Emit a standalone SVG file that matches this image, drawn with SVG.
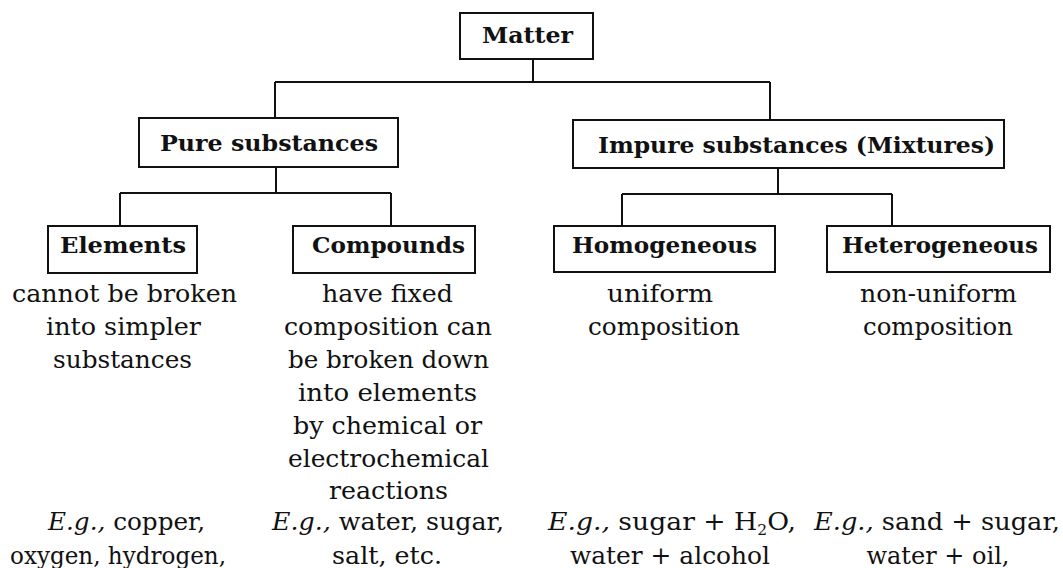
<svg xmlns="http://www.w3.org/2000/svg" width="1063" height="568" viewBox="0 0 1063 568">
<style>
.box{fill:#fff;stroke:#111;stroke-width:2}
.lbl{font-family:"DejaVu Serif","Liberation Serif",serif;font-weight:bold;font-size:23px;fill:#111}
.txt{font-family:"DejaVu Serif","Liberation Serif",serif;font-size:24px;fill:#111}
.it{font-style:italic}
.conn path{fill:none;stroke:#111;stroke-width:2}
</style>
<rect width="1063" height="568" fill="#fff"/>
<g class="conn" id="connectors">
<path d="M533,59 V82"/>
<path d="M275,82 H770"/>
<path d="M275,82 V118"/>
<path d="M770,82 V120"/>
<path d="M276,167 V193"/>
<path d="M120,193 H391"/>
<path d="M120,193 V226"/>
<path d="M391,193 V226"/>
<path d="M778,168 V194"/>
<path d="M622,194 H892"/>
<path d="M622,194 V226"/>
<path d="M892,194 V226"/>
</g>
<g id="matter">
<rect class="box" x="460" y="13" width="133" height="46"/>
<text class="lbl" x="482" y="43" textLength="91" lengthAdjust="spacingAndGlyphs">Matter</text>
</g>
<g id="pure">
<rect class="box" x="139" y="118" width="259" height="49"/>
<text class="lbl" x="160" y="151" textLength="218" lengthAdjust="spacingAndGlyphs">Pure substances</text>
</g>
<g id="impure">
<rect class="box" x="573" y="120" width="431" height="48"/>
<text class="lbl" x="598" y="153" textLength="397" lengthAdjust="spacingAndGlyphs">Impure substances (Mixtures)</text>
</g>
<g id="elements">
<rect class="box" x="48" y="226" width="149" height="47"/>
<text class="lbl" x="60" y="253" textLength="126" lengthAdjust="spacingAndGlyphs">Elements</text>
<text class="txt" x="12" y="302" textLength="225" lengthAdjust="spacingAndGlyphs">cannot be broken</text>
<text class="txt" x="46" y="335" textLength="155" lengthAdjust="spacingAndGlyphs">into simpler</text>
<text class="txt" x="53" y="368" textLength="139" lengthAdjust="spacingAndGlyphs">substances</text>
<text class="txt" x="48" y="530" textLength="157" lengthAdjust="spacingAndGlyphs"><tspan class="it">E.g.,</tspan> copper,</text>
<text class="txt" x="10" y="564" textLength="216" lengthAdjust="spacingAndGlyphs">oxygen, hydrogen,</text>
</g>
<g id="compounds">
<rect class="box" x="293" y="226" width="182" height="47"/>
<text class="lbl" x="312" y="253" textLength="153" lengthAdjust="spacingAndGlyphs">Compounds</text>
<text class="txt" x="322" y="302" textLength="131" lengthAdjust="spacingAndGlyphs">have fixed</text>
<text class="txt" x="284" y="335" textLength="208" lengthAdjust="spacingAndGlyphs">composition can</text>
<text class="txt" x="288" y="368" textLength="201" lengthAdjust="spacingAndGlyphs">be broken down</text>
<text class="txt" x="298" y="401" textLength="179" lengthAdjust="spacingAndGlyphs">into elements</text>
<text class="txt" x="293" y="434" textLength="189" lengthAdjust="spacingAndGlyphs">by chemical or</text>
<text class="txt" x="288" y="467" textLength="201" lengthAdjust="spacingAndGlyphs">electrochemical</text>
<text class="txt" x="329" y="499" textLength="119" lengthAdjust="spacingAndGlyphs">reactions</text>
<text class="txt" x="272" y="530" textLength="232" lengthAdjust="spacingAndGlyphs"><tspan class="it">E.g.,</tspan> water, sugar,</text>
<text class="txt" x="332" y="564" textLength="110" lengthAdjust="spacingAndGlyphs">salt, etc.</text>
</g>
<g id="homogeneous">
<rect class="box" x="554" y="226" width="221" height="46"/>
<text class="lbl" x="572" y="253" textLength="185" lengthAdjust="spacingAndGlyphs">Homogeneous</text>
<text class="txt" x="607" y="302" textLength="106" lengthAdjust="spacingAndGlyphs">uniform</text>
<text class="txt" x="588" y="335" textLength="152" lengthAdjust="spacingAndGlyphs">composition</text>
<text class="txt" x="548" y="530" textLength="248" lengthAdjust="spacingAndGlyphs"><tspan class="it">E.g.,</tspan> sugar + H<tspan font-size="14" dy="5">2</tspan><tspan dy="-5">O,</tspan></text>
<text class="txt" x="570" y="564" textLength="200" lengthAdjust="spacingAndGlyphs">water + alcohol</text>
</g>
<g id="heterogeneous">
<rect class="box" x="827" y="226" width="223" height="46"/>
<text class="lbl" x="842" y="253" textLength="196" lengthAdjust="spacingAndGlyphs">Heterogeneous</text>
<text class="txt" x="860" y="302" textLength="157" lengthAdjust="spacingAndGlyphs">non-uniform</text>
<text class="txt" x="863" y="335" textLength="150" lengthAdjust="spacingAndGlyphs">composition</text>
<text class="txt" x="814" y="530" textLength="246" lengthAdjust="spacingAndGlyphs"><tspan class="it">E.g.,</tspan> sand + sugar,</text>
<text class="txt" x="938" y="564" text-anchor="middle" font-size="23">water + oil,</text>
</g>
</svg>
